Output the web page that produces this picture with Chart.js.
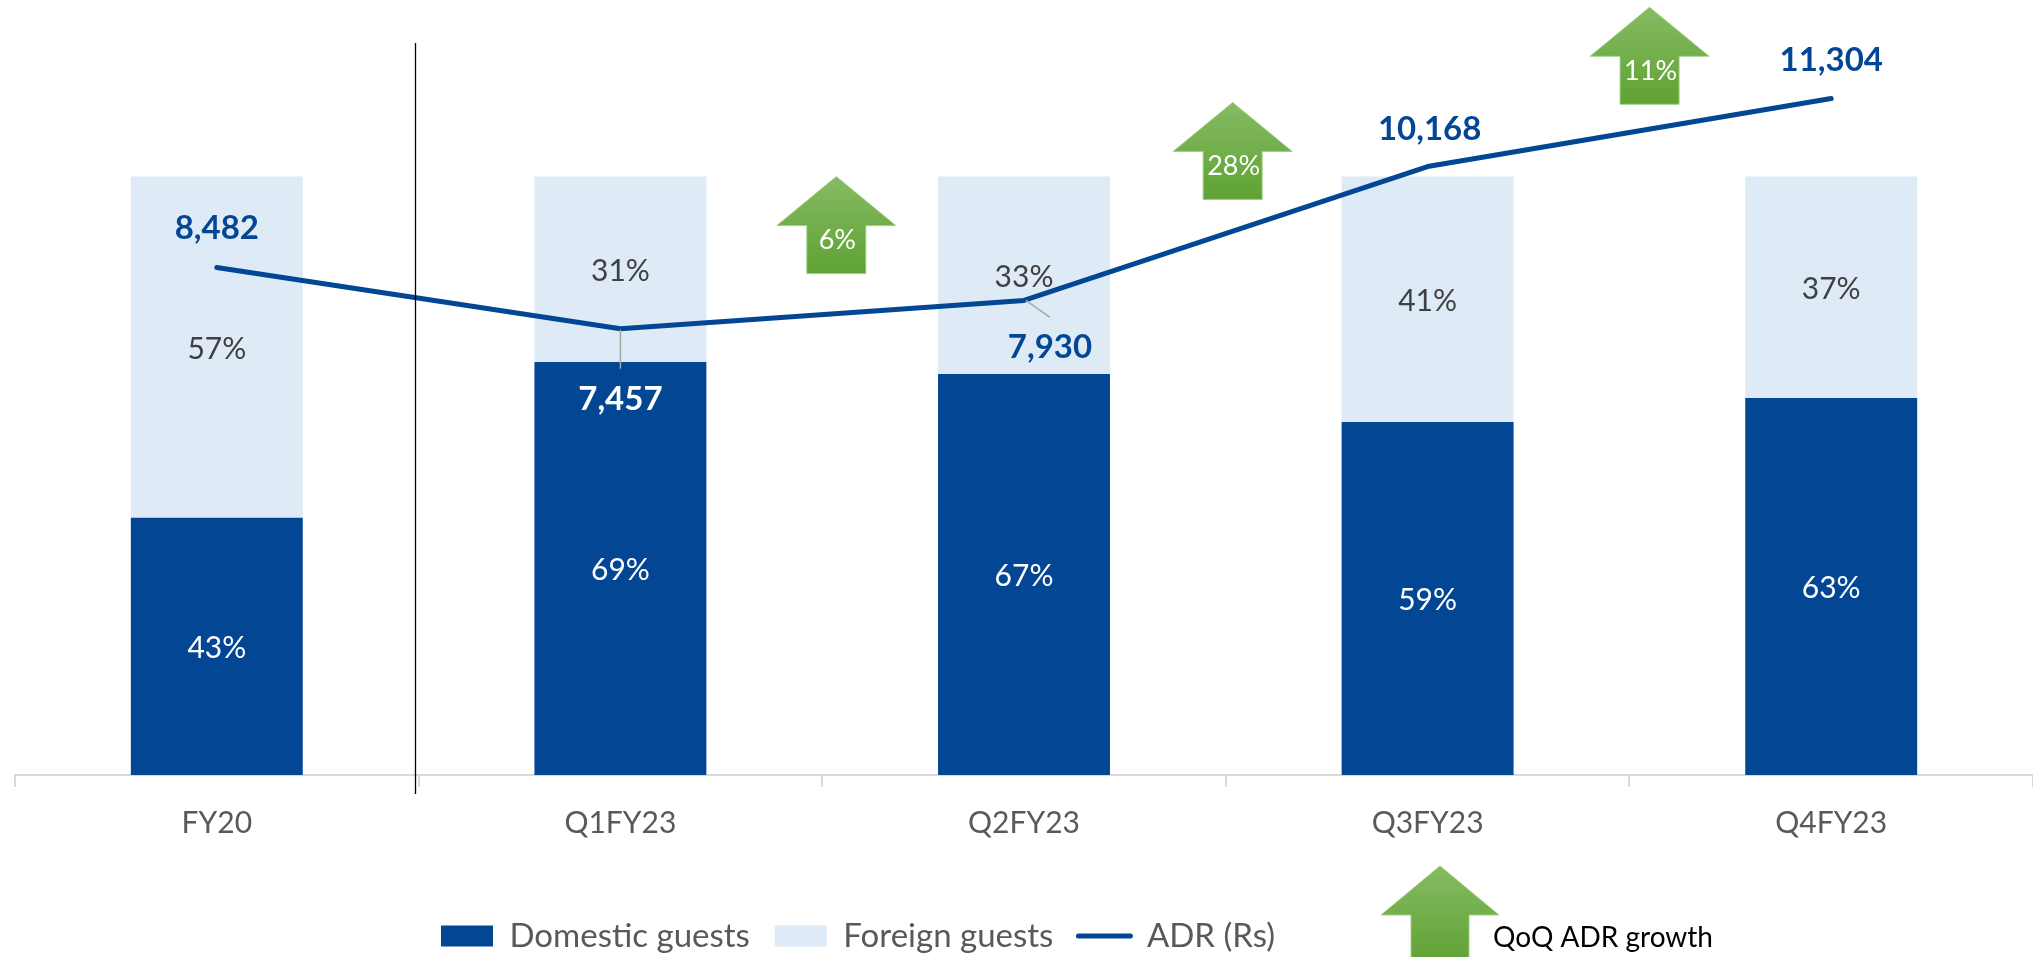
<!DOCTYPE html>
<html><head><meta charset="utf-8">
<script src="https://cdn.jsdelivr.net/npm/chart.js@4.4.0/dist/chart.umd.min.js"></script>
<style>html,body{margin:0;padding:0;background:#fff;overflow:hidden}</style>
</head><body>
<canvas id="c" width="2033" height="957"></canvas>
<script>
// ---- data ----
const categories = ['FY20', 'Q1FY23', 'Q2FY23', 'Q3FY23', 'Q4FY23'];
const domesticShare = [43, 69, 67, 59, 63];
const foreignShare = [57, 31, 33, 41, 37];
const adrValues = [8482, 7457, 7930, 10168, 11304];
const qoqGrowthLabels = ['6%', '28%', '11%'];
const seriesNames = ['Domestic guests', 'Foreign guests', 'ADR (Rs)'];
const growthLegendText = 'QoQ ADR growth';

// ---- styling / layout ----
const BLUE = '#034694', LIGHT = '#DEEAF6', GRID = '#d9d9d9';
const FONT = 'Lato';
// growth arrow placement: x in category-index units, tip in ADR-axis units
const growthArrowX = [1.535, 2.517, 3.55];
const growthArrowTip = [10000, 11240, 12830];
const ARROW = { headW: 119, headH: 49, shaftW: 59, totalH: 97, textDy: 63 };
// ADR label offsets (px) relative to the point, and optional leader lines
const adrLabelPos = [
  { dx: 0, dy: -41, color: BLUE },
  { dx: 0, dy: 69, color: '#ffffff', leader: [0, 1, 0, 40] },
  { dx: 26, dy: 45, color: BLUE, leader: [2, 0, 26, 17] },
  { dx: 2, dy: -39, color: BLUE },
  { dx: 0, dy: -40, color: BLUE }
];
const LEGEND = { x: 441, cy: 936 };
const LEGEND_ARROW = { x: 1440, tip: 866, textX: 1493, textY: 938 };

function drawArrow(ctx, cx, tipY, a) {
  const g = ctx.createLinearGradient(0, tipY, 0, tipY + a.totalH);
  g.addColorStop(0, '#86bb63');
  g.addColorStop(1, '#5fa234');
  ctx.beginPath();
  ctx.moveTo(cx, tipY);
  ctx.lineTo(cx + a.headW / 2, tipY + a.headH);
  ctx.lineTo(cx + a.shaftW / 2, tipY + a.headH);
  ctx.lineTo(cx + a.shaftW / 2, tipY + a.totalH);
  ctx.lineTo(cx - a.shaftW / 2, tipY + a.totalH);
  ctx.lineTo(cx - a.shaftW / 2, tipY + a.headH);
  ctx.lineTo(cx - a.headW / 2, tipY + a.headH);
  ctx.closePath();
  ctx.fillStyle = g;
  ctx.fill();
  ctx.strokeStyle = 'rgba(160,205,130,0.9)';
  ctx.lineWidth = 1;
  ctx.stroke();
}

const legendPlacer = {
  id: 'legendPlacer',
  afterLayout(chart) {
    const lg = chart.legend;
    if (!lg) return;
    const p = lg.options.labels.padding;
    const fs = lg.options.labels.font.size;
    const h = lg.bottom - lg.top;
    lg.left = LEGEND.x - p;
    lg.right = chart.width;
    lg.width = lg.right - lg.left;
    lg.top = LEGEND.cy - p - fs / 2;
    lg.bottom = lg.top + h;
  }
};

const annotations = {
  id: 'annotations',
  afterDatasetsDraw(chart) {
    const ctx = chart.ctx;
    const xs = chart.scales.x, y2 = chart.scales.y2, area = chart.chartArea;
    ctx.save();
    // separator between FY20 and quarters
    const sepX = Math.round((xs.getPixelForValue(0) + xs.getPixelForValue(1)) / 2) - 3.5;
    ctx.strokeStyle = '#000';
    ctx.lineWidth = 1.3;
    ctx.beginPath();
    ctx.moveTo(sepX, area.top + 16);
    ctx.lineTo(sepX, area.bottom + 19);
    ctx.stroke();

    // percentage labels
    ctx.textAlign = 'center';
    ctx.textBaseline = 'middle';
    ctx.font = `30px ${FONT}`;
    [0, 1].forEach(di => {
      const meta = chart.getDatasetMeta(di);
      const vals = chart.data.datasets[di].data;
      meta.data.forEach((el, i) => {
        ctx.fillStyle = di === 0 ? '#ffffff' : '#404040';
        ctx.fillText(vals[i] + '%', el.x, (el.y + el.base) / 2 + 2);
      });
    });

    // ADR labels + leader lines
    const lm = chart.getDatasetMeta(2);
    ctx.font = `bold 33px ${FONT}`;
    lm.data.forEach((pt, i) => {
      const o = adrLabelPos[i];
      if (o.leader) {
        ctx.strokeStyle = '#a6a6a6';
        ctx.lineWidth = 1.5;
        ctx.beginPath();
        ctx.moveTo(pt.x + o.leader[0], pt.y + o.leader[1]);
        ctx.lineTo(pt.x + o.leader[2], pt.y + o.leader[3]);
        ctx.stroke();
      }
      ctx.fillStyle = o.color;
      ctx.fillText(adrValues[i].toLocaleString('en-US'), pt.x + o.dx, pt.y + o.dy + 2);
    });

    // QoQ growth arrows
    qoqGrowthLabels.forEach((t, i) => {
      const cx = xs.getPixelForValue(0) + growthArrowX[i] * (xs.getPixelForValue(1) - xs.getPixelForValue(0));
      const tip = y2.getPixelForValue(growthArrowTip[i]);
      drawArrow(ctx, cx, tip, ARROW);
      ctx.fillStyle = '#ffffff';
      ctx.font = `27px ${FONT}`;
      ctx.fillText(t, cx + 1, tip + ARROW.textDy + 1);
    });
    ctx.restore();
  },
  afterDraw(chart) {
    const ctx = chart.ctx;
    ctx.save();
    drawArrow(ctx, LEGEND_ARROW.x, LEGEND_ARROW.tip, { headW: 118, headH: 49, shaftW: 58, totalH: 97 });
    ctx.fillStyle = '#000';
    ctx.font = `28px ${FONT}`;
    ctx.textAlign = 'left';
    ctx.textBaseline = 'middle';
    ctx.fillText(growthLegendText, LEGEND_ARROW.textX, LEGEND_ARROW.textY);
    ctx.restore();
  }
};

function build() {
  new Chart(document.getElementById('c'), {
    type: 'bar',
    data: {
      labels: categories,
      datasets: [
        { label: seriesNames[0], data: domesticShare, backgroundColor: BLUE, yAxisID: 'y', stack: 's', order: 2,
          barPercentage: 0.426, categoryPercentage: 1 },
        { label: seriesNames[1], data: foreignShare, backgroundColor: LIGHT, yAxisID: 'y', stack: 's', order: 2,
          barPercentage: 0.426, categoryPercentage: 1 },
        { type: 'line', label: seriesNames[2], data: adrValues, borderColor: BLUE, backgroundColor: BLUE,
          borderWidth: 5, pointRadius: 0, tension: 0, borderCapStyle: 'round', borderJoinStyle: 'round',
          yAxisID: 'y2', order: 1 }
      ]
    },
    options: {
      responsive: false,
      animation: false,
      layout: { padding: { left: 15, right: 0, top: 27, bottom: 30 } },
      scales: {
        x: {
          stacked: true,
          grid: { display: true, drawOnChartArea: false, drawTicks: true, tickLength: 12, color: GRID, lineWidth: 2, offset: true },
          border: { display: true, color: GRID, width: 2 },
          ticks: { color: '#595959', font: { family: FONT, size: 30 }, padding: 18 }
        },
        y: { stacked: true, display: false, min: 0, max: 125 },
        y2: { display: false, min: 0, max: 12500, position: 'right' }
      },
      plugins: {
        tooltip: { enabled: false },
        legend: {
          position: 'bottom',
          align: 'start',
          labels: {
            usePointStyle: true,
            pointStyleWidth: 52,
            boxHeight: 21,
            padding: 25,
            color: '#595959',
            font: { family: FONT, size: 33 },
            generateLabels(chart) {
              const items = Chart.defaults.plugins.legend.labels.generateLabels(chart);
              items.sort((a, b) => a.datasetIndex - b.datasetIndex);
              items.forEach(it => {
                if (it.datasetIndex < 2) { it.pointStyle = 'rect'; it.lineWidth = 0; }
                else { it.pointStyle = 'line'; it.lineWidth = 5; it.strokeStyle = BLUE; it.lineCap = 'round'; }
              });
              return items;
            }
          }
        }
      }
    },
    plugins: [legendPlacer, annotations]
  });
}

Promise.all([
  document.fonts.load(`30px ${FONT}`),
  document.fonts.load(`bold 33px ${FONT}`)
]).then(build, build);
</script>
</body></html>
